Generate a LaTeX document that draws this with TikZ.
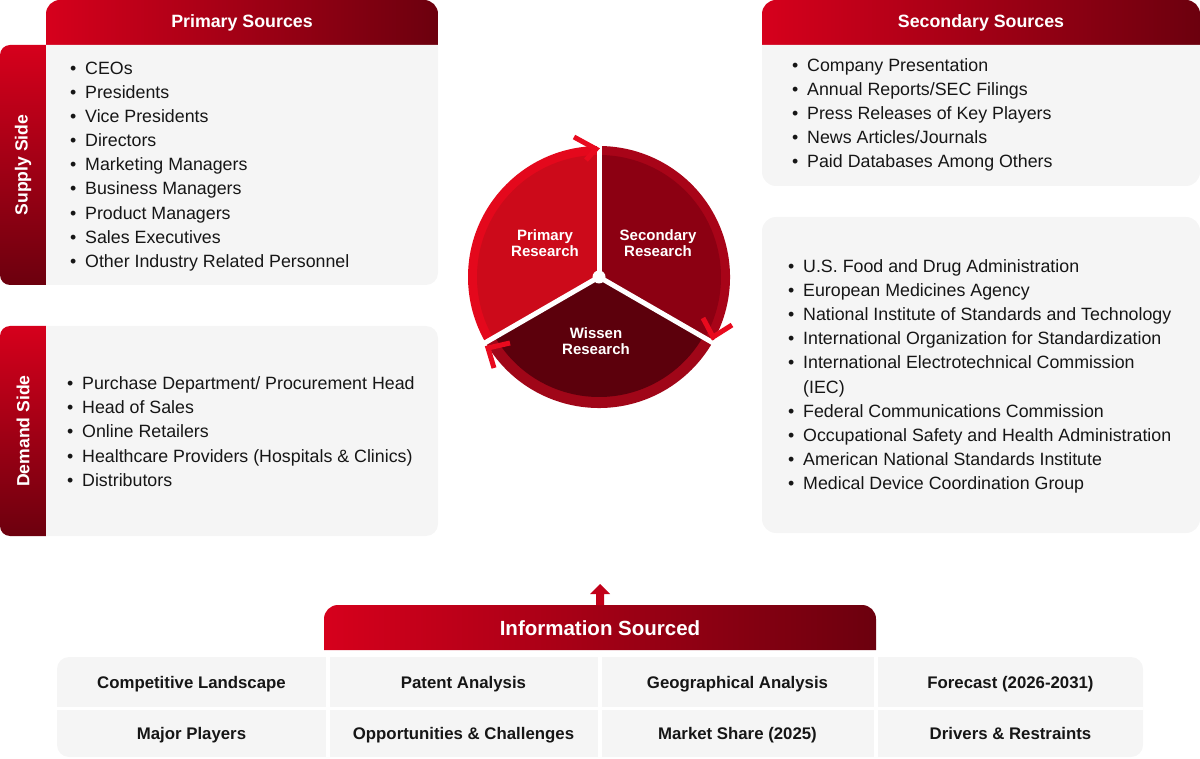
\documentclass[tikz,border=0pt]{standalone}
\usepackage{fontspec}
\setmainfont{Liberation Sans}
\usetikzlibrary{positioning, calc}
\definecolor{brandred}{RGB}{214,0,28}
\definecolor{branddark}{RGB}{108,0,14}
\definecolor{panelgray}{RGB}{245,245,245}
\definecolor{inkcolor}{RGB}{22,22,22}
\definecolor{rimprim}{RGB}{228,8,28}
\definecolor{fillprim}{RGB}{204,10,26}
\definecolor{rimsec}{RGB}{168,4,24}
\definecolor{fillsec}{RGB}{140,0,18}
\definecolor{rimwis}{RGB}{160,6,24}
\definecolor{fillwis}{RGB}{92,0,12}
\definecolor{chevred}{RGB}{232,10,30}

\newcommand{\itm}[1]{\makebox[15pt][l]{\textbullet}#1}

\begin{document}
\begin{tikzpicture}[x=1pt, y=-1pt,
    hdrtext/.style={text=white, inner sep=0pt, font=\fontsize{17.8}{21}\selectfont\bfseries},
    sidetext/.style={text=white, inner sep=0pt, rotate=90, font=\fontsize{17.6}{21}\selectfont\bfseries},
    item/.style={anchor=base west, inner sep=0pt, text=inkcolor, font=\fontsize{17.8}{21}\selectfont},
    celltext/.style={anchor=base, text=inkcolor, inner sep=0pt, font=\fontsize{16.8}{20}\selectfont\bfseries},
    pietext/.style={text=white, inner sep=0pt, align=center, font=\fontsize{15}{15.5}\selectfont\bfseries},
    hshade/.style={left color=brandred, right color=branddark},
    vshade/.style={top color=brandred, bottom color=branddark},
    chev/.style={draw=chevred, line width=5pt, line join=miter}]

    \useasboundingbox (0,0) rectangle (1200,759);

    % Primary sources / supply side
    \shade[hshade] (46,45) [rounded corners=14] -- (46,0) -- (438,0) [sharp corners] -- (438,45) -- cycle;
    \shade[vshade] (46,45) [rounded corners=10] -- (0,45) -- (0,285) [sharp corners] -- (46,285) -- cycle;
    \fill[panelgray] (46,45) -- (438,45) [rounded corners=12] -- (438,285) [sharp corners] -- (46,285) -- cycle;
    \node[hdrtext] (primsrc) at (242,23) {Primary Sources};
    \node[sidetext] (supply) at (23,165) {Supply Side};
    \foreach \t [count=\i] in {CEOs, Presidents, Vice Presidents, Directors, Marketing Managers,
        Business Managers, Product Managers, Sales Executives, Other Industry Related Personnel}
        \node[item] (sup\i) at (70,{74.5+24.1*(\i-1)}) {\itm{\t}};

    % Demand side
    \shade[vshade] (46,326) [rounded corners=10] -- (0,326) -- (0,536) [sharp corners] -- (46,536) -- cycle;
    \fill[panelgray] (46,326) [rounded corners=12] -- (438,326) -- (438,536) [sharp corners] -- (46,536) -- cycle;
    \node[sidetext] (demand) at (23,431) {Demand Side};
    \foreach \t [count=\i] in {Purchase Department/ Procurement Head, Head of Sales, Online Retailers,
        Healthcare Providers (Hospitals \& Clinics), Distributors}
        \node[item] (dem\i) at (67,{389.5+24.2*(\i-1)}) {\itm{\t}};

    % Secondary sources
    \shade[hshade] (762,45) [rounded corners=14] -- (762,0) -- (1200,0) [sharp corners] -- (1200,45) -- cycle;
    \fill[panelgray] (762,45) -- (1200,45) [rounded corners=14] -- (1200,186) -- (762,186) [sharp corners] -- (762,45) -- cycle;
    \node[hdrtext] (secsrc) at (981,23) {Secondary Sources};
    \foreach \t [count=\i] in {Company Presentation, Annual Reports/SEC Filings, Press Releases of Key Players,
        News Articles/Journals, Paid Databases Among Others}
        \node[item] (sec\i) at (792,{71.5+24.1*(\i-1)}) {\itm{\t}};

    % Agencies
    \fill[panelgray, rounded corners=14] (762,217) rectangle (1200,533);
    \foreach \t/\k in {U.S. Food and Drug Administration/0, European Medicines Agency/1,
        National Institute of Standards and Technology/2, International Organization for Standardization/3,
        International Electrotechnical Commission/4, Federal Communications Commission/6,
        Occupational Safety and Health Administration/7, American National Standards Institute/8,
        Medical Device Coordination Group/9}
        \node[item] (agy\k) at (788,{272.5+24.1*\k}) {\itm{\t}};
    \node[item] (agy5) at (788,{272.5+24.1*5}) {\hspace*{15pt}(IEC)};

    % Research cycle
    \begin{scope}[shift={(599,277)}, y=1pt]
        \fill[rimprim] (0,0) -- (90:131) arc (90:210:131) -- cycle;
        \fill[fillprim] (0,0) -- (90:122) arc (90:210:122) -- cycle;
        \fill[rimsec] (0,0) -- (-30:131) arc (-30:90:131) -- cycle;
        \fill[fillsec] (0,0) -- (-30:122) arc (-30:90:122) -- cycle;
        \fill[rimwis] (0,0) -- (210:131) arc (210:330:131) -- cycle;
        \fill[fillwis] (0,0) -- (210:120) arc (210:330:120) -- cycle;
        \foreach \a in {90,210,330}
            \draw[white, line width=5pt] (0,0) -- (\a:136);
        \fill[white] (0,0) circle (6.5);
    \end{scope}
    \draw[chev] (574,137) -- (596,149) -- (586,160);
    \draw[chev] (703,318) -- (713,337) -- (732,325);
    \draw[chev] (510,343) -- (488,348) -- (494,368);
    \node[pietext] (primres) at (545,243) {Primary\\Research};
    \node[pietext] (secres) at (658,243) {Secondary\\Research};
    \node[pietext] (wisres) at (596,341) {Wissen\\Research};

    % Information sourced
    \shade[hshade] (324,650) [rounded corners=14] -- (324,605) -- (876,605) [sharp corners] -- (876,650) -- cycle;
    \coordinate (infotop) at (600,605);
    \node[hdrtext, font=\fontsize{20.5}{24}\selectfont\bfseries] (info) at (600,628) {Information Sourced};
    \fill[brandred!80!branddark] ($(infotop)+(-4,0)$) -- ++(0,-11) -- ++(-6,0) -- ++(10,-10)
        -- ++(10,10) -- ++(-6,0) -- ++(0,11) -- cycle;

    \fill[panelgray, rounded corners=12] (57,657) rectangle (1143,757);
    \foreach \xx in {327.5,599.5,875.5}
        \draw[white, line width=4pt] (\xx,657) -- (\xx,757);
    \draw[white, line width=3pt] (57,708) -- (1143,708);
    \foreach \t/\xx/\yy [count=\i] in {Competitive Landscape/191.5/688, Patent Analysis/463.5/688,
        Geographical Analysis/737.5/688, Forecast (2026-2031)/1010.5/688,
        Major Players/191.5/739, Opportunities \& Challenges/463.5/739,
        Market Share (2025)/737.5/739, Drivers \& Restraints/1010.5/739}
        \node[celltext] (cell\i) at (\xx,\yy) {\t};

\end{tikzpicture}
\end{document}
